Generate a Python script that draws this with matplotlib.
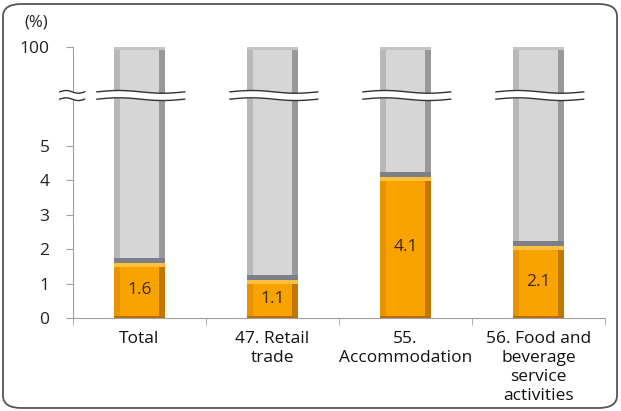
import numpy as np
import matplotlib
matplotlib.use("Agg")
import matplotlib.pyplot as plt
from matplotlib.patches import FancyBboxPatch
from matplotlib.transforms import blended_transform_factory

categories = ["Total", "47. Retail\ntrade", "55.\nAccommodation", "56. Food and\nbeverage\nservice\nactivities"]
values = [1.6, 1.1, 4.1, 2.1]
total = [100, 100, 100, 100]
ytick_values = [0, 1, 2, 3, 4, 5, 100]
ytick_labels = ["0", "1", "2", "3", "4", "5", "100"]
unit_label = "(%)"

plt.rcParams['font.family'] = ['Open Sans', 'DejaVu Sans']

BRK = 5.5
TOP = 7.88


def fwd(y):
    y = np.asarray(y, dtype=float)
    return np.where(y <= BRK, y, BRK + (y - BRK) * (TOP - BRK) / (100 - BRK))


def inv(u):
    u = np.asarray(u, dtype=float)
    return np.where(u <= BRK, u, BRK + (u - BRK) * (100 - BRK) / (TOP - BRK))


fig = plt.figure(figsize=(6.21, 4.11), dpi=100)
ax = fig.add_axes([73 / 621, 93 / 411, 532 / 621, 271 / 411])
ax.set_yscale('function', functions=(fwd, inv))
ax.set_ylim(0, 100)
ax.set_xlim(-0.5, len(categories) - 0.5)

x = np.arange(len(categories))
w = 0.39
edge = 0.05

# gray remainder bars (vertical strips to imitate bevel)
rem = [t - v for t, v in zip(total, values)]
ax.bar(x, rem, w, bottom=values, color="#d6d6d6", zorder=2)
ax.bar(x - w / 2 + edge / 2, rem, edge, bottom=values, color="#b8b8b8", zorder=3)
ax.bar(x + w / 2 - edge / 2, rem, edge, bottom=values, color="#999999", zorder=3)
# top cap of gray bar
ax.bar(x, [3.0] * len(x), w, bottom=[97.0] * len(x), color="#c4c4c4", zorder=3)
# shadow band at bottom of gray part
ax.bar(x, [0.14] * len(x), w, bottom=values, color="#7b8088", zorder=4)

# orange value bars
ax.bar(x, values, w, color="#f9a300", zorder=2)
ax.bar(x - w / 2 + edge / 2, values, edge, color="#e89400", zorder=3)
ax.bar(x + w / 2 - edge / 2, values, edge, color="#c27800", zorder=3)
ax.bar(x, [0.12] * len(x), w, bottom=[v - 0.12 for v in values], color="#ffc040", zorder=4)
ax.bar(x, [0.06] * len(x), w, bottom=[0] * len(x), color="#b87000", zorder=4)

for xi, v in zip(x, values):
    ax.text(xi, v / 2, f"{v}", ha="center", va="center", fontsize=12.5,
            color="#3a2a10", zorder=6)

# axes styling
for s in ["top", "right"]:
    ax.spines[s].set_visible(False)
ax.spines["left"].set_color("#a0a0a0")
ax.spines["bottom"].set_color("#a0a0a0")
ax.set_yticks(ytick_values)
ax.set_yticklabels(ytick_labels)
ax.yaxis.set_minor_locator(matplotlib.ticker.NullLocator())
ax.tick_params(axis="y", length=5, color="#a0a0a0", pad=12, labelsize=12.5, labelcolor="#222222")
ax.set_xticks(x)
ax.set_xticklabels(categories)
ax.set_xticks(np.arange(-0.5, len(categories), 1.0), minor=True)
ax.tick_params(axis="x", which="major", length=0, pad=9, labelsize=12.5, labelcolor="#111111")
ax.tick_params(axis="x", which="minor", length=5, color="#a0a0a0")
for lbl in ax.get_xticklabels():
    lbl.set_linespacing(1.26)

ax.text(-0.07, 1.09, unit_label, transform=ax.transAxes, ha="center", va="center",
        fontsize=12, color="#222222")

# break marks
yb = 0.821
gap = 0.0135
amp = 0.005
trans = blended_transform_factory(ax.transData, ax.transAxes)


def wave(x0, x1, tr):
    t = np.linspace(0, 1, 80)
    xs = x0 + (x1 - x0) * t
    ys = amp * np.sin(2 * np.pi * t)
    ax.fill_between(xs, yb - gap + ys, yb + gap + ys, color="white", transform=tr,
                    zorder=7, clip_on=False, linewidth=0)
    ax.plot(xs, yb - gap + ys, color="#333333", lw=1.0, transform=tr, zorder=8, clip_on=False)
    ax.plot(xs, yb + gap + ys, color="#333333", lw=1.0, transform=tr, zorder=8, clip_on=False)


for xi in x:
    wave(xi - 0.32, xi + 0.34, trans)
wave(-0.025, 0.022, ax.transAxes)

# figure border
fig.patches.append(FancyBboxPatch((3 / 621, 3 / 411), 614 / 621, 404 / 411,
                                  boxstyle="round,pad=0,rounding_size=0.03",
                                  transform=fig.transFigure, fill=False,
                                  edgecolor="#555555", linewidth=1.3))

fig.savefig("out.png", dpi=100)
